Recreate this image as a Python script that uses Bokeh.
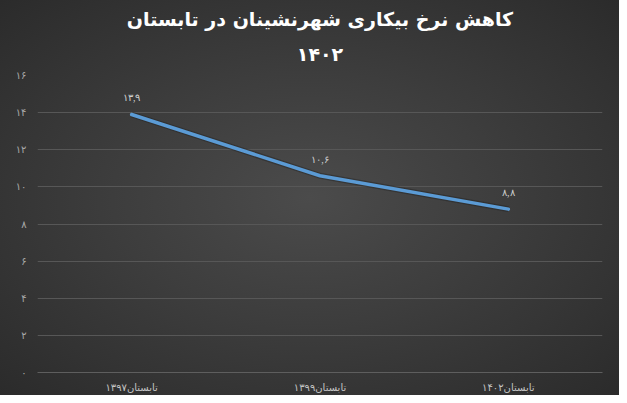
from bokeh.plotting import figure
from bokeh.models import FactorRange, Range1d, FixedTicker, ColumnDataSource, LabelSet, Title
from bokeh.embed import file_html
from bokeh.resources import INLINE

categories = ["تابستان۱۳۹۷", "تابستان۱۳۹۹", "تابستان۱۴۰۲"]
values = [13.9, 10.6, 8.8]
value_labels = ["۱۳,۹", "۱۰,۶", "۸,۸"]
y_ticks = [0, 2, 4, 6, 8, 10, 12, 14, 16]
y_tick_labels = ["۰", "۲", "۴", "۶", "۸", "۱۰", "۱۲", "۱۴", "۱۶"]
title_lines = ["کاهش نرخ بیکاری شهرنشینان در تابستان", "۱۴۰۲"]

FONT = "DejaVu Sans"

p = figure(width=619, height=395,
           x_range=FactorRange(*categories, range_padding=0),
           y_range=Range1d(0, 16),
           output_backend="svg", toolbar_location=None,
           min_border_left=37, min_border_right=17,
           min_border_top=75, min_border_bottom=20,
           outline_line_color=None)

p.background_fill_color = None
p.border_fill_color = None
p.styles = {"background": "radial-gradient(ellipse at 50% 50%, #4b4b4b 0%, #3d3d3d 45%, #2b2b2b 100%)"}

for txt, so in [(title_lines[1], 22), (title_lines[0], 0)]:
    t = Title(text=txt, align="center", text_font=FONT, text_font_size="19px",
              text_font_style="bold", text_color="#ffffff", standoff=so)
    p.add_layout(t, "above")

p.yaxis.ticker = FixedTicker(ticks=y_ticks)
p.yaxis.major_label_overrides = {t: l for t, l in zip(y_ticks, y_tick_labels)}
p.yaxis.axis_line_color = None
p.yaxis.major_tick_line_color = None
p.yaxis.minor_tick_line_color = None
p.yaxis.major_label_text_color = "#a8a8a8"
p.yaxis.major_label_text_font = FONT
p.yaxis.major_label_text_font_size = "10px"
p.yaxis.major_label_standoff = 5

p.xaxis.axis_line_color = "#5e5e5e"
p.xaxis.major_tick_line_color = None
p.xaxis.minor_tick_line_color = None
p.xaxis.major_label_text_color = "#c4c4c4"
p.xaxis.major_label_text_font = FONT
p.xaxis.major_label_text_font_size = "10px"
p.xaxis.major_label_standoff = 3

p.xgrid.visible = False
p.ygrid.grid_line_color = "#575757"
p.ygrid.grid_line_width = 1

src = ColumnDataSource(dict(x=categories, y=values, lbl=value_labels))
p.line("x", "y", source=src, line_color="#222222", line_width=6, line_alpha=0.45)
p.line("x", "y", source=src, line_color="#5b9bd5", line_width=3.5, line_cap="round", line_join="round")

labels = LabelSet(x="x", y="y", text="lbl", source=src, y_offset=11,
                  text_align="center", text_baseline="bottom",
                  text_color="#cfcfcf", text_font_size="10px", text_font=FONT)
p.add_layout(labels)

open("out.html", "w").write(file_html(p, INLINE))
